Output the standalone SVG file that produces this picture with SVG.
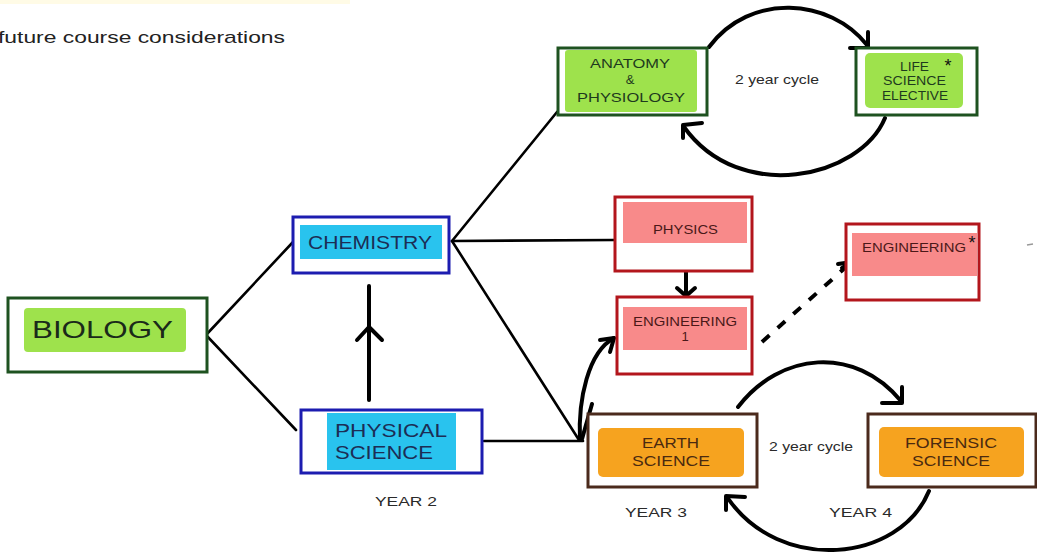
<svg xmlns="http://www.w3.org/2000/svg" width="1037" height="558" viewBox="0 0 1037 558">
<style>
text{font-family:"Liberation Sans",Arial,sans-serif;}
.lbl{fill:#2a2a2a;font-size:13px;}
.frame{fill:#fff;stroke-width:3;}
.g{stroke:#1e5220;}
.b{stroke:#1c1cb0;}
.r{stroke:#b3161c;}
.br{stroke:#4b2a1c;}
.gf{fill:#9ee24c;}
.cf{fill:#29c3ee;}
.pf{fill:#f88a8a;}
.of{fill:#f6a31f;}
.line{fill:none;stroke:#000;stroke-width:2.6;stroke-linecap:round;}
.bold{fill:none;stroke:#000;stroke-width:4;stroke-linecap:round;stroke-linejoin:round;}
.dash{fill:none;stroke:#000;stroke-width:4;stroke-dasharray:10 11;}
</style>
<rect x="0" y="0" width="350" height="4" fill="#fffbe6"/>
<text x="-2" y="43" font-size="17" fill="#222" textLength="287" lengthAdjust="spacingAndGlyphs">future course considerations</text>

<g id="connectors">
  <line class="line" x1="206" y1="335" x2="293" y2="242"/>
  <line class="line" x1="206" y1="335" x2="296" y2="430"/>
  <line class="line" x1="452" y1="241" x2="557" y2="112"/>
  <line class="line" x1="452" y1="241" x2="614" y2="240"/>
  <line class="line" x1="452" y1="241" x2="579" y2="440"/>
  <line class="line" x1="484" y1="441" x2="583" y2="441"/>
  <!-- physical science up to chemistry -->
  <line class="bold" x1="369" y1="400" x2="369" y2="286"/>
  <polyline class="bold" points="357,340 369,327 382,340"/>
  <!-- physics to engineering 1 -->
  <line class="bold" x1="686" y1="272" x2="686" y2="296"/>
  <polyline class="bold" points="677,288 686,296 695,288"/>
  <!-- junction to engineering 1 -->
  <path class="bold" d="M580 440 C578 400 588 352 614 338"/>
  <polyline class="bold" points="600,340 614,338 610,352"/>
  <line class="bold" x1="592" y1="404" x2="582" y2="439"/>
  <!-- dashed to engineering* -->
  <line class="dash" x1="762" y1="342" x2="846" y2="267"/>
  <polyline class="bold" points="838,264 852,262 850,276"/>
  <line class="bold" x1="842" y1="268" x2="852" y2="262"/>
  <!-- top cycle -->
  <path class="bold" d="M709 47 C750 -8 830 -2 867 45"/>
  <polyline class="bold" points="850,48 868,48 868,32"/>
  <path class="bold" d="M885 118 C860 178 740 205 684 127"/>
  <polyline class="bold" points="683,138 683,125 702,123"/>
  <!-- bottom cycle -->
  <path class="bold" d="M738 407 C780 352 855 345 901 401"/>
  <polyline class="bold" points="882,403 902,403 902,387"/>
  <path class="bold" d="M929 491 C900 562 780 575 727 497"/>
  <polyline class="bold" points="726,510 726,496 745,497"/>
  <line x1="1027" y1="245" x2="1033" y2="244" stroke="#999" stroke-width="1.5"/>
</g>

<g id="biology">
  <rect class="frame g" x="8" y="298" width="199" height="74"/>
  <rect class="gf" x="24" y="308" width="162" height="44" rx="4"/>
  <text x="32" y="338" font-size="24" fill="#1a2a1a" textLength="141" lengthAdjust="spacingAndGlyphs">BIOLOGY</text>
</g>

<g id="chemistry">
  <rect class="frame b" x="293" y="217" width="156" height="56"/>
  <rect class="cf" x="300" y="225" width="142" height="34"/>
  <text x="308" y="249" font-size="19" fill="#1c2d55" textLength="124" lengthAdjust="spacingAndGlyphs">CHEMISTRY</text>
</g>

<g id="physical-science">
  <rect class="frame b" x="301" y="410" width="181" height="63"/>
  <rect class="cf" x="327" y="413" width="129" height="57"/>
  <text x="335" y="437" font-size="19" fill="#1c2d55" textLength="112" lengthAdjust="spacingAndGlyphs">PHYSICAL</text>
  <text x="335" y="459" font-size="19" fill="#1c2d55" textLength="98" lengthAdjust="spacingAndGlyphs">SCIENCE</text>
</g>
<text class="lbl" x="375" y="506" font-size="14" textLength="62" lengthAdjust="spacingAndGlyphs">YEAR 2</text>

<g id="anatomy">
  <rect class="frame g" x="558" y="48" width="149" height="67"/>
  <rect class="gf" x="565" y="50" width="132" height="62" rx="3"/>
  <text x="590" y="68" font-size="13" fill="#1e3a1e" textLength="80" lengthAdjust="spacingAndGlyphs">ANATOMY</text>
  <text x="630" y="84" font-size="13" fill="#1e3a1e" text-anchor="middle">&amp;</text>
  <text x="577" y="102" font-size="13" fill="#1e3a1e" textLength="108" lengthAdjust="spacingAndGlyphs">PHYSIOLOGY</text>
</g>
<text class="lbl" x="735" y="84" textLength="84" lengthAdjust="spacingAndGlyphs">2 year cycle</text>

<g id="life-science-elective">
  <rect class="frame g" x="856" y="48" width="121" height="67"/>
  <rect class="gf" x="865" y="53" width="98" height="55" rx="5"/>
  <text x="900" y="71" font-size="12" fill="#1e3a1e" textLength="29" lengthAdjust="spacingAndGlyphs">LIFE</text>
  <text x="883" y="85" font-size="12" fill="#1e3a1e" textLength="63" lengthAdjust="spacingAndGlyphs">SCIENCE</text>
  <text x="882" y="100" font-size="12" fill="#1e3a1e" textLength="66" lengthAdjust="spacingAndGlyphs">ELECTIVE</text>
  <text x="948" y="72" font-size="18" fill="#111" text-anchor="middle">*</text>
</g>

<g id="physics">
  <rect class="frame r" x="615" y="197" width="137" height="74"/>
  <rect class="pf" x="623" y="202" width="124" height="41"/>
  <text x="653" y="234" font-size="13" fill="#4a1818" textLength="65" lengthAdjust="spacingAndGlyphs">PHYSICS</text>
</g>

<g id="engineering-1">
  <rect class="frame r" x="617" y="297" width="135" height="77"/>
  <rect class="pf" x="623" y="307" width="124" height="43"/>
  <text x="633" y="326" font-size="13" fill="#4a1818" textLength="104" lengthAdjust="spacingAndGlyphs">ENGINEERING</text>
  <text x="685" y="341" font-size="13" fill="#4a1818" text-anchor="middle">1</text>
</g>

<g id="engineering-elective">
  <rect class="frame r" x="846" y="224" width="133" height="76"/>
  <rect class="pf" x="852" y="233" width="125" height="43"/>
  <text x="862" y="252" font-size="13" fill="#4a1818" textLength="104" lengthAdjust="spacingAndGlyphs">ENGINEERING</text>
  <text x="972" y="249" font-size="18" fill="#111" text-anchor="middle">*</text>
</g>

<g id="earth-science">
  <rect class="frame br" x="588" y="414" width="169" height="73"/>
  <rect class="of" x="598" y="428" width="146" height="49" rx="5"/>
  <text x="642" y="448" font-size="15" fill="#4a2a10" textLength="57" lengthAdjust="spacingAndGlyphs">EARTH</text>
  <text x="632" y="466" font-size="15" fill="#4a2a10" textLength="78" lengthAdjust="spacingAndGlyphs">SCIENCE</text>
</g>
<text class="lbl" x="625" y="517" font-size="14" textLength="62" lengthAdjust="spacingAndGlyphs">YEAR 3</text>
<text class="lbl" x="769" y="451" textLength="84" lengthAdjust="spacingAndGlyphs">2 year cycle</text>

<g id="forensic-science">
  <rect class="frame br" x="868" y="414" width="168" height="73"/>
  <rect class="of" x="879" y="427" width="145" height="50" rx="5"/>
  <text x="905" y="448" font-size="15" fill="#4a2a10" textLength="92" lengthAdjust="spacingAndGlyphs">FORENSIC</text>
  <text x="912" y="466" font-size="15" fill="#4a2a10" textLength="78" lengthAdjust="spacingAndGlyphs">SCIENCE</text>
</g>
<text class="lbl" x="829" y="517" font-size="14" textLength="63" lengthAdjust="spacingAndGlyphs">YEAR 4</text>
</svg>
